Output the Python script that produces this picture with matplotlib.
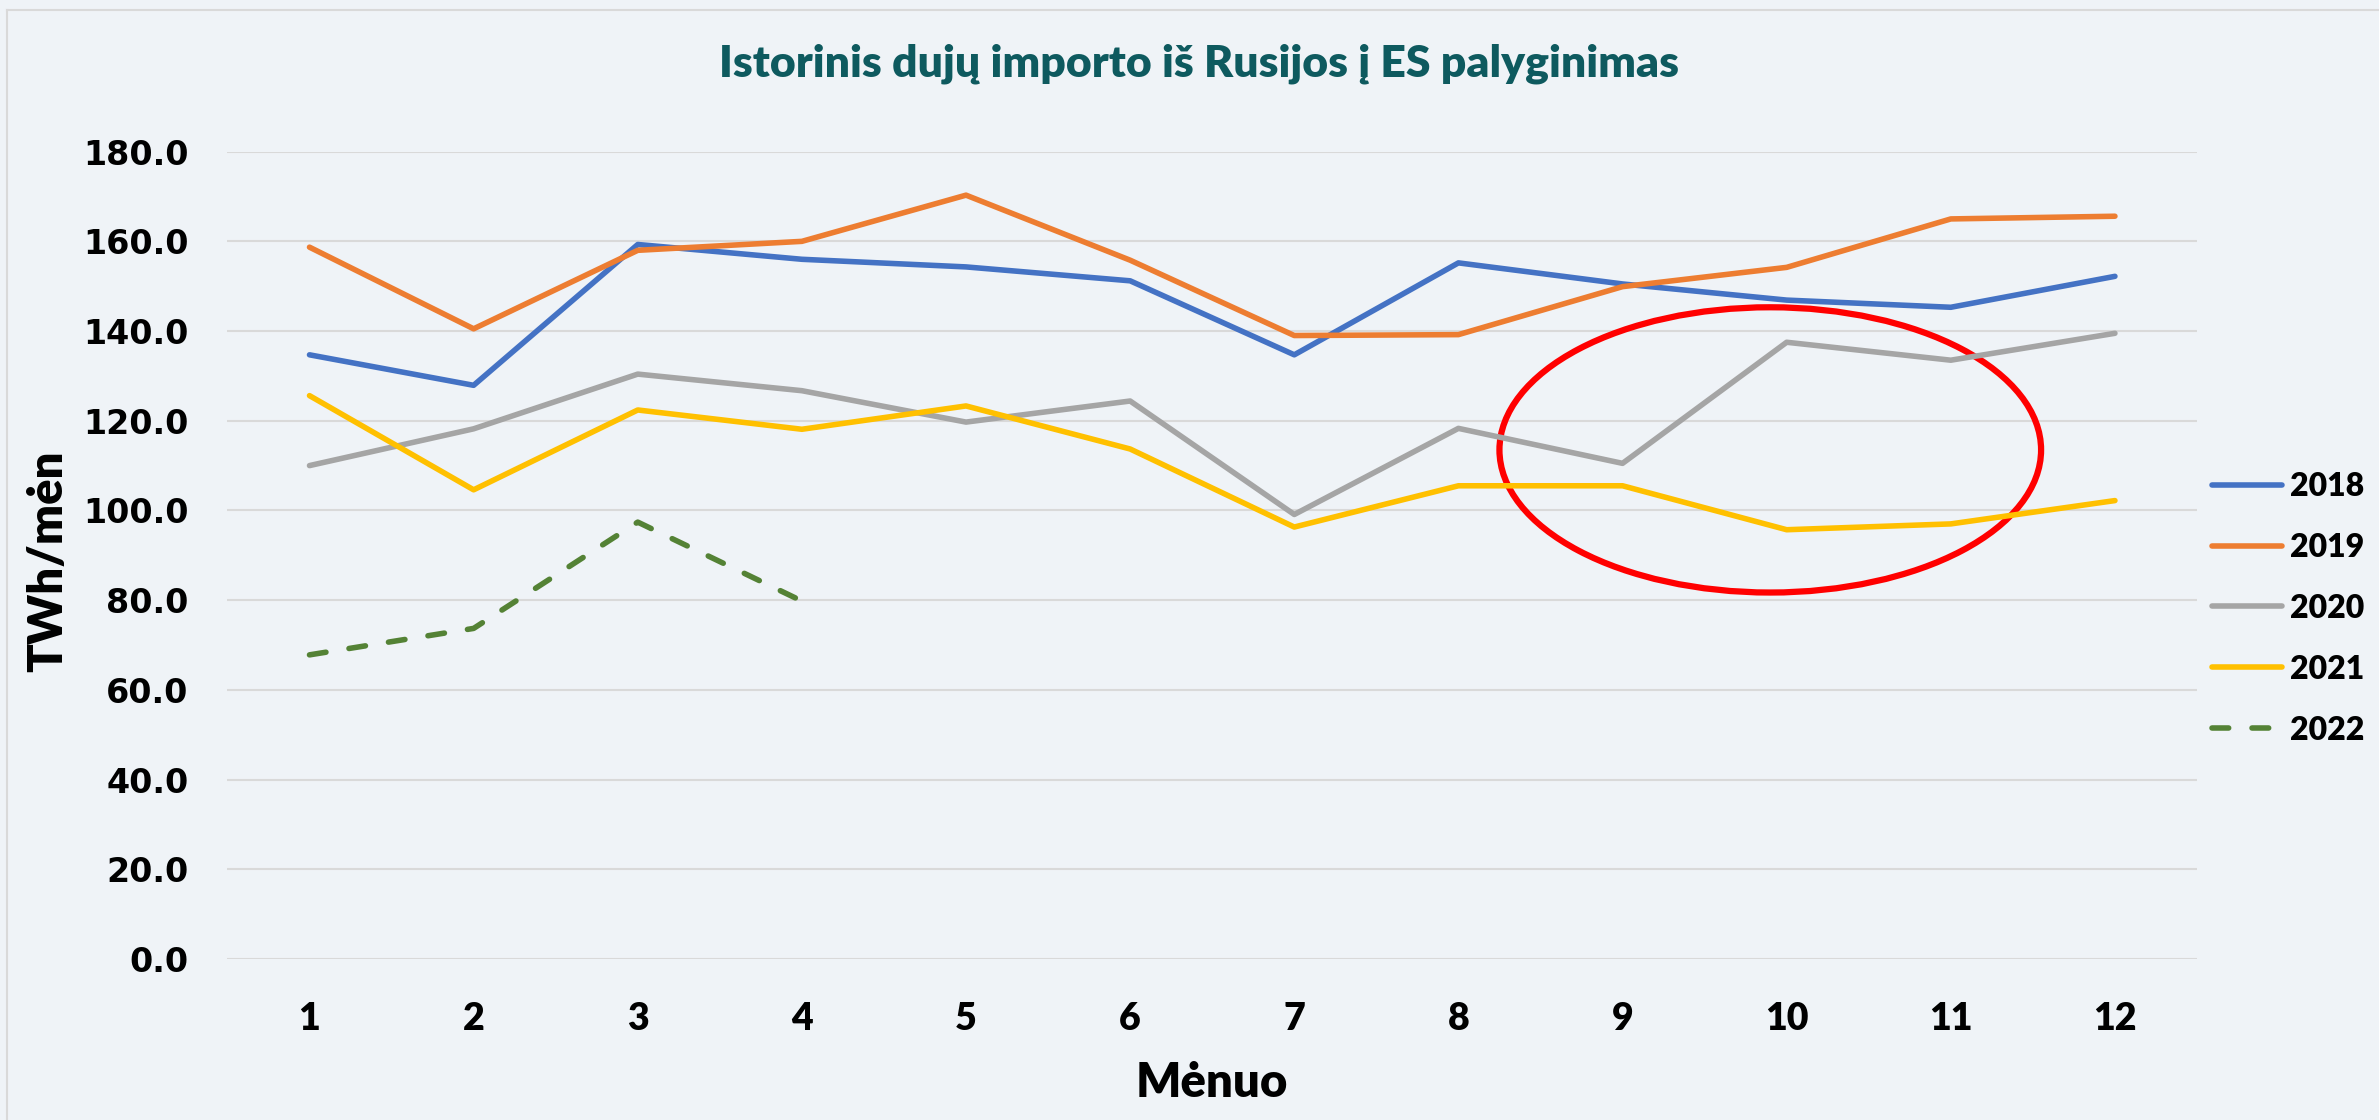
import matplotlib
matplotlib.use("Agg")
import matplotlib.pyplot as plt
from matplotlib.patches import Ellipse
from matplotlib.lines import Line2D

# data (TWh per month)
months = [1, 2, 3, 4, 5, 6, 7, 8, 9, 10, 11, 12]
y2018 = [134.7, 127.9, 159.3, 156.0, 154.3, 151.2, 134.7, 155.2, 150.5, 146.9, 145.3, 152.2]
y2019 = [158.7, 140.5, 158.0, 160.0, 170.3, 155.8, 139.0, 139.2, 149.9, 154.2, 165.0, 165.6]
y2020 = [110.0, 118.2, 130.4, 126.7, 119.7, 124.4, 99.1, 118.3, 110.5, 137.5, 133.5, 139.5]
y2021 = [125.6, 104.6, 122.4, 118.1, 123.3, 113.7, 96.3, 105.5, 105.5, 95.7, 97.0, 102.2]
months_2022 = [1, 2, 3, 4]
y2022 = [67.8, 73.7, 97.4, 79.8]
y_ticks = [0, 20, 40, 60, 80, 100, 120, 140, 160, 180]

# red highlight ellipse (month, value)
circle_center = (9.9, 113.5)
circle_w, circle_h = 3.3, 63.6

bg = '#EFF3F7'
font = 'Lato'
wt = 'heavy'

fig = plt.figure(figsize=(23.79, 11.2), dpi=100, facecolor=bg)
ax = fig.add_axes([0.0956, 0.1438, 0.8279, 0.7208])
ax.set_facecolor(bg)

lw = 4.0
ax.plot(months, y2018, color='#4472C4', lw=lw, label='2018', solid_capstyle='round')
ax.plot(months, y2019, color='#ED7D31', lw=lw, label='2019', solid_capstyle='round')
ax.plot(months, y2020, color='#A5A5A5', lw=lw, label='2020', solid_capstyle='round')
ax.plot(months, y2021, color='#FFC000', lw=lw, label='2021', solid_capstyle='round')
ax.plot(months_2022, y2022, color='#548235', lw=lw, label='2022', linestyle=(0, (3.0, 4.2)),
        dash_capstyle='round')

ax.add_patch(Ellipse(circle_center, circle_w, circle_h, fill=False, edgecolor='#FF0000', lw=4.5))

ax.set_xlim(0.5, 12.5)
ax.set_ylim(0, 180)
ax.set_xticks(months)
ax.set_yticks(y_ticks)
ax.set_yticklabels([f'{v:.1f}' for v in y_ticks])
ax.grid(axis='y', color='#D9D9D9', lw=1.5)
ax.set_axisbelow(True)
for s in ax.spines.values():
    s.set_visible(False)
ax.tick_params(length=0)
ax.tick_params(axis='y', pad=28)
ax.tick_params(axis='x', pad=31)
for t in ax.get_yticklabels():
    t.set_fontfamily('DejaVu Sans')
    t.set_fontweight('bold')
    t.set_fontsize(24)
for t in ax.get_xticklabels():
    t.set_fontfamily(font)
    t.set_fontweight(wt)
    t.set_fontsize(27)

ax.set_xlabel('Mėnuo', fontfamily=font, fontweight=wt, fontsize=34, labelpad=18)
ax.set_ylabel('TWh/mėn', fontfamily=font, fontweight=wt, fontsize=34)
ax.yaxis.set_label_coords(-0.080, 0.493)

fig.text(0.504, 0.943, 'Istorinis dujų importo iš Rusijos į ES palyginimas', ha='center', va='center',
         fontfamily=font, fontweight=wt, fontsize=32, color='#0E5A5F')

ax.legend(loc='center left', bbox_to_anchor=(0.9298, 0.457), bbox_transform=fig.transFigure,
          frameon=False, handlelength=2.2, handletextpad=0.25, labelspacing=1.0,
          borderpad=0, borderaxespad=0,
          prop={'family': font, 'weight': wt, 'size': 23})

# chart frame lines (left and top)
fig.add_artist(Line2D([7 / 2379, 7 / 2379], [0, 1 - 10 / 1120], transform=fig.transFigure, color='#D9D9D9', lw=1.5))
fig.add_artist(Line2D([7 / 2379, 1], [1 - 10 / 1120, 1 - 10 / 1120], transform=fig.transFigure, color='#D9D9D9', lw=1.5))

fig.savefig('out.png', dpi=100, facecolor=bg)
